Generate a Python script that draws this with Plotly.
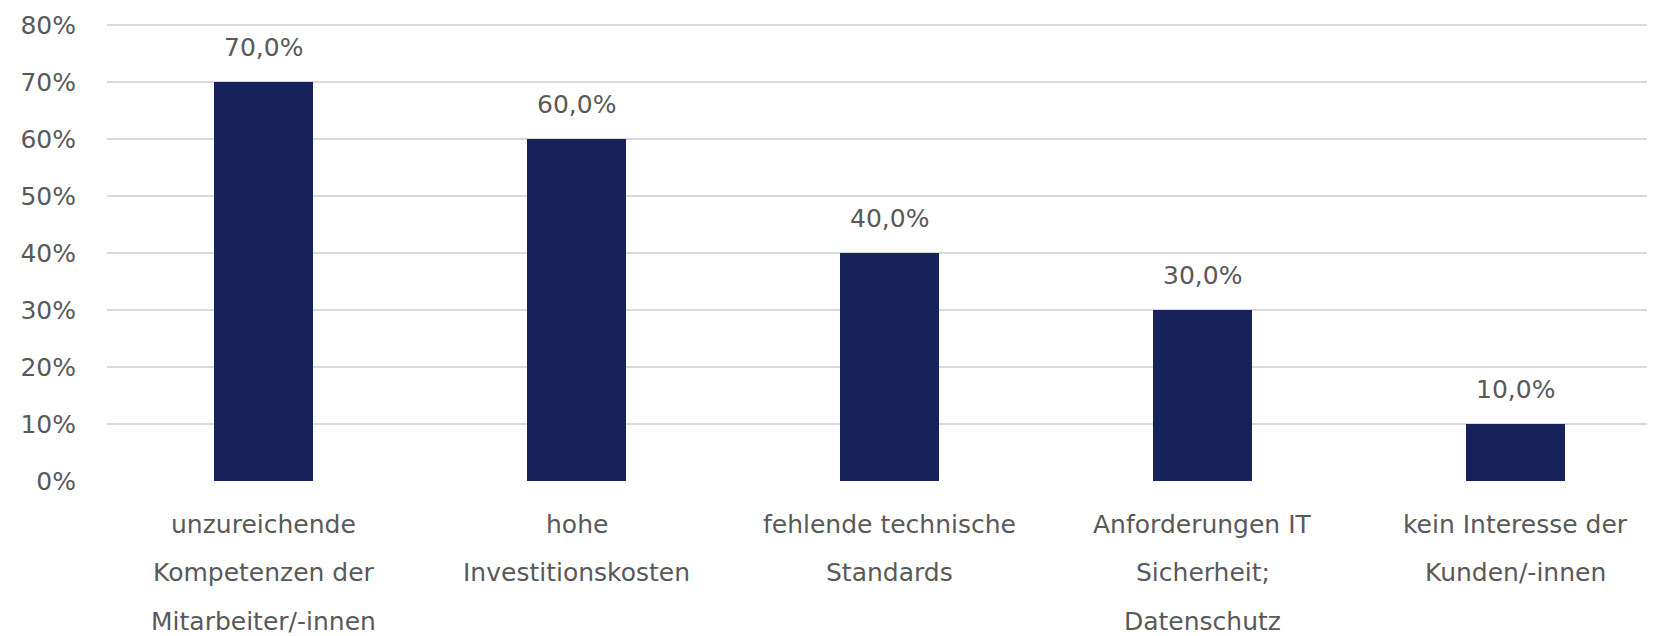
import plotly.graph_objects as go

categories = [
    "unzureichende Kompetenzen der Mitarbeiter/-innen",
    "hohe Investitionskosten",
    "fehlende technische Standards",
    "Anforderungen IT Sicherheit; Datenschutz",
    "kein Interesse der Kunden/-innen",
]
label_lines = [
    ["unzureichende", "Kompetenzen der", "Mitarbeiter/-innen"],
    ["hohe", "Investitionskosten"],
    ["fehlende technische", "Standards"],
    ["Anforderungen IT", "Sicherheit;", "Datenschutz"],
    ["kein Interesse der", "Kunden/-innen"],
]
values = [0.70, 0.60, 0.40, 0.30, 0.10]
y_ticks = [0, 0.1, 0.2, 0.3, 0.4, 0.5, 0.6, 0.7, 0.8]

FONT = "DejaVu Sans"
TXT = "#595959"
BAR = "#16235A"
FS = 25

fig = go.Figure()
fig.add_trace(go.Bar(
    x=list(range(len(categories))),
    y=values,
    width=0.316,
    marker=dict(color=BAR, line=dict(width=0)),
    hovertext=categories,
))

annotations = []
for i, v in enumerate(values):
    annotations.append(dict(
        x=i, y=v, xref="x", yref="y",
        text=f"{v*100:.1f}".replace(".", ",") + "%",
        showarrow=False, yanchor="bottom", yshift=18,
        font=dict(family=FONT, size=FS, color=TXT),
    ))
for i, lines in enumerate(label_lines):
    for j, line in enumerate(lines):
        annotations.append(dict(
            x=i, y=0, xref="x", yref="paper",
            text=line, showarrow=False, yanchor="middle",
            yshift=-(43 + 48.5 * j),
            font=dict(family=FONT, size=FS, color=TXT),
        ))

fig.update_layout(
    width=1647, height=628,
    margin=dict(l=99, r=3, t=16, b=155),
    paper_bgcolor="white", plot_bgcolor="white",
    showlegend=False,
    bargap=0,
    annotations=annotations,
    font=dict(family=FONT, size=FS, color=TXT),
)
fig.update_xaxes(
    range=[-0.5, 4.436], showticklabels=False, showgrid=False,
    zeroline=False, showline=False, ticks="",
)
fig.update_yaxes(
    range=[0, 0.802], tickvals=y_ticks, tickformat=".0%",
    showgrid=True, gridcolor="#D9D9D9", gridwidth=2,
    zeroline=False, showline=False, ticks="",
    ticklabelstandoff=30,
    tickfont=dict(family=FONT, size=FS, color=TXT),
)

fig.write_html("out.html")
